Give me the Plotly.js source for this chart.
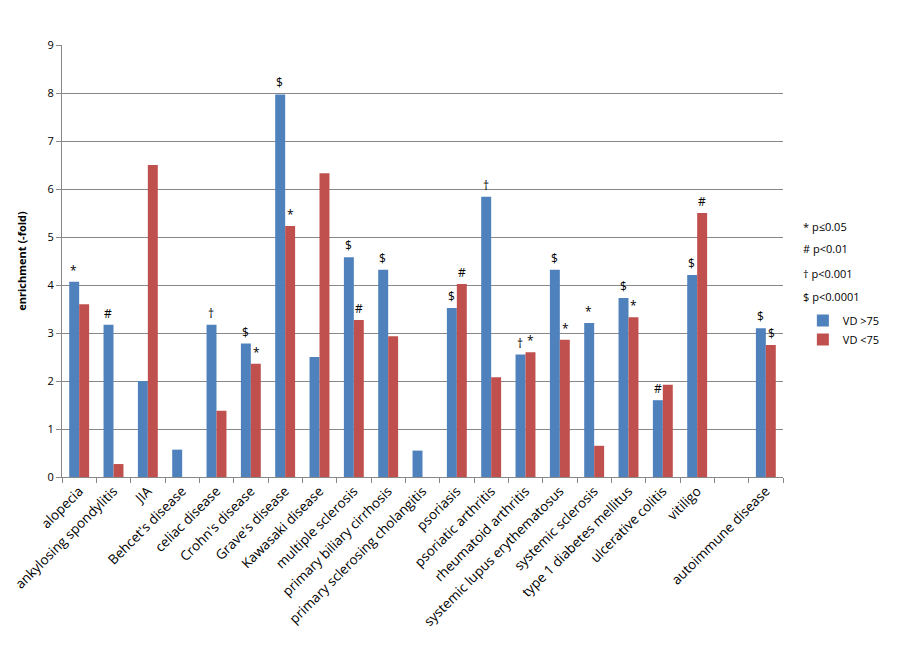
<!DOCTYPE html>
<html>
<head>
<meta charset="utf-8">
<script src="https://cdn.plot.ly/plotly-3.0.1.min.js"></script>
<style>html,body{margin:0;padding:0;background:#fff;}#chart{width:897px;height:656px;}</style>
</head>
<body>
<div id="chart"></div>
<script>
const categories = ["alopecia","ankylosing spondylitis","JIA","Behcet's disease","celiac disease","Crohn's disease","Grave's disease","Kawasaki disease","multiple sclerosis","primary biliary cirrhosis","primary sclerosing cholangitis","psoriasis","psoriatic arthritis","rheumatoid arthritis","systemic lupus erythematosus","systemic sclerosis","type 1 diabetes mellitus","ulcerative colitis","vitiligo"," ","autoimmune disease"];
const vdHigh = [4.07,3.17,2.0,0.57,3.17,2.78,7.97,2.5,4.58,4.32,0.55,3.52,5.84,2.55,4.32,3.21,3.73,1.6,4.21,null,3.1];
const vdLow  = [3.6,0.27,6.5,null,1.38,2.36,5.23,6.33,3.27,2.93,null,4.02,2.08,2.6,2.86,0.65,3.33,1.92,5.5,null,2.75];
const sigHigh = ["*","#","","","\u2020","$","$","","$","$","","$","\u2020","\u2020","$","*","$","#","$","","$"];
const sigLow  = ["","","","","","*","*","","#","","","#","","*","*","","*","","#","","$"];
const sigKey = ["* p\u22640.05","# p<0.01","\u2020 p<0.001","$ p<0.0001"];
const seriesNames = ["VD >75","VD <75"];

const font = "Open Sans, Liberation Sans, sans-serif";
const traces = [
  {type:"bar", name:seriesNames[0], x:categories, y:vdHigh, marker:{color:"#4F81BD"}},
  {type:"bar", name:seriesNames[1], x:categories, y:vdLow, marker:{color:"#C0504D"}}
];
const annotations = [];
function addSig(sig, vals, shift){
  sig.forEach((s,i)=>{
    if(s && vals[i]!=null){
      annotations.push({text:s, x:categories[i], y:vals[i], xref:"x", yref:"y", xanchor:"center", yanchor:"bottom",
        xshift:shift, yshift:1, showarrow:false, font:{size:12,color:"#000",family:font}});
    }
  });
}
addSig(sigHigh, vdHigh, -5.2);
addSig(sigLow, vdLow, 5.2);
const keyY = [226,248,273,296];
sigKey.forEach((t,i)=>annotations.push({
  text:t, xref:"paper", yref:"paper", x:(806-62)/726, y:(477-keyY[i])/432,
  xanchor:"left", yanchor:"middle", showarrow:false, font:{size:11,color:"#000",family:font}
}));
const layout = {
  width:897, height:656,
  margin:{l:62, r:109, t:45, b:179},
  paper_bgcolor:"#fff", plot_bgcolor:"#fff",
  font:{family:font, size:11, color:"#000"},
  barmode:"group", bargap:0.42, bargroupgap:0,
  showlegend:true,
  legend:{x:(808-62)/726, y:(477-306)/432, xanchor:"left", yanchor:"top", font:{size:11}, tracegroupgap:0, itemwidth:30},
  xaxis:{type:"category", tickangle:-45, tickson:"boundaries", ticks:"outside", ticklen:5, tickcolor:"#888",
         showline:true, linecolor:"#888", showgrid:false, tickfont:{size:13.5}},
  yaxis:{range:[0,9], dtick:1, ticks:"outside", ticklen:5, tickcolor:"#888", showline:true, linecolor:"#888",
         gridcolor:"#888", gridwidth:1, zeroline:false, tickfont:{size:11},
         title:{text:"<b>enrichment (-fold)</b>", font:{size:11}, standoff:18}},
  annotations:annotations
};
Plotly.newPlot("chart", traces, layout, {staticPlot:true});
</script>
</body>
</html>
